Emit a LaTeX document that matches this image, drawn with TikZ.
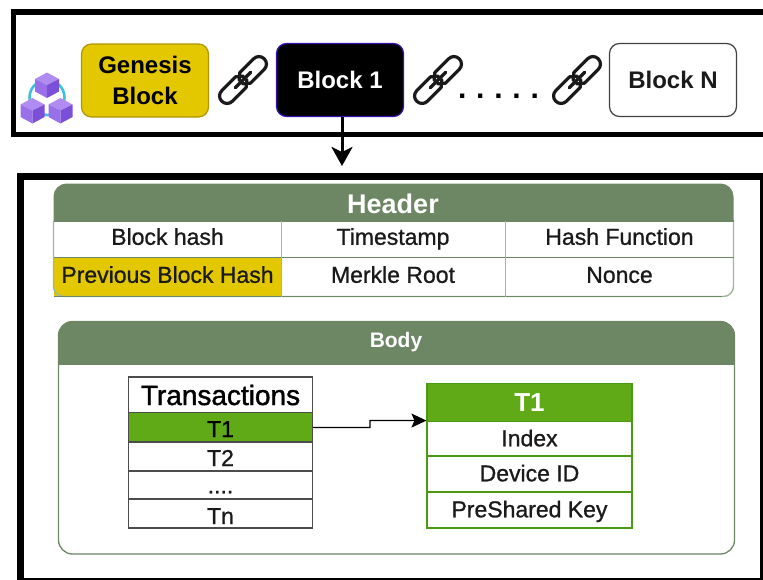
\documentclass[tikz,border=0pt]{standalone}
\usepackage{fontspec}
\setmainfont{Liberation Sans}
\usetikzlibrary{arrows.meta}
\definecolor{sage}{HTML}{6D8764}
\definecolor{sageline}{HTML}{A3B59C}
\definecolor{gold}{HTML}{E3C800}
\definecolor{goldline}{HTML}{B09500}
\definecolor{leaf}{HTML}{60A917}
\definecolor{leafline}{HTML}{4C9A12}
\definecolor{ink}{HTML}{1A1A1A}
\definecolor{cubetop}{HTML}{B08CF2}
\definecolor{cubeleft}{HTML}{9A70EA}
\definecolor{cuberight}{HTML}{7B4FD8}
\definecolor{ring}{HTML}{3FC0DC}
\definecolor{blockedge}{HTML}{3A10B0}
\newcommand{\cubeat}[2]{%
  \fill[cubetop] (#1,#2-12.5)--(#1+12,#2-6)--(#1,#2)--(#1-12,#2-6)--cycle;
  \fill[cubeleft] (#1-12,#2-6)--(#1,#2)--(#1,#2+13)--(#1-12,#2+6.5)--cycle;
  \fill[cuberight] (#1+12,#2-6)--(#1,#2)--(#1,#2+13)--(#1+12,#2+6.5)--cycle;
}
\newcommand{\linkicon}[2]{%
  \begin{scope}[shift={(#1,#2)},rotate=45,line width=3.2pt,draw=ink,line cap=round,line join=round]
    \draw[rounded corners=7.4pt] (-3,-7.5) -- (-30,-7.5) -- (-30,7.5) -- (-3,7.5);
    \draw (-3,-7.5) -- (3,-2.5);
    \draw (-3,7.5) -- (3,2.5);
    \draw[rounded corners=7.4pt] (3,-7.5) -- (30,-7.5) -- (30,7.5) -- (3,7.5);
    \draw (3,-7.5) -- (-3,-2.5);
    \draw (3,7.5) -- (-3,2.5);
    \draw (-11,0) -- (11,0);
  \end{scope}
}
\tikzset{
  frame/.style={draw=black,line width=5.5pt},
  blockbox/.style={rounded corners=10pt,line width=1.2pt,minimum width=127pt,minimum height=73pt,inner sep=0pt,align=center,font=\bfseries\fontsize{24}{31}\selectfont},
  cell/.style={inner sep=0pt,font=\fontsize{23}{24}\selectfont\addfontfeature{FakeBold=0.9},text=ink,text height=16.6pt,text depth=0pt},
  titletext/.style={inner sep=0pt,text=white,font=\bfseries},
  flow/.style={-{Stealth[length=19pt,width=21pt,inset=5pt]},line width=3pt},
  thinflow/.style={-{Stealth[length=15pt,width=14pt,inset=3pt]},line width=1.3pt},
  rowline/.style={line width=1.1pt},
}
\begin{document}
\begin{tikzpicture}[x=1pt,y=-1pt]
\useasboundingbox (0,0) rectangle (763,579);
% top frame
\draw[frame] (13.5,11.75) rectangle (775,134.5);
% lower frame
\draw[frame,line width=6.5pt] (20.5,176.5) rectangle (763.5,581);
% blocks
\node[blockbox,fill=gold,draw=goldline,text=black] (gen) at (145,80.5) {Genesis\\Block};
\node[blockbox,fill=black,draw=blockedge,text=white] (b1) at (340,80) {Block 1};
\node[blockbox,fill=white,draw=black!75,text=ink] (bn) at (673,80) {Block N};
\node[inner sep=0pt,font=\bfseries\fontsize{30}{30}\selectfont] (dots) at (498.5,96) {.\kern9.8pt.\kern9.8pt.\kern9.8pt.\kern9.8pt.};
\linkicon{243}{80}
\linkicon{438}{80}
\linkicon{577}{80}
% blockchain icon
\draw[ring,line width=2.6pt] (47,97.5) circle (17.5);
\cubeat{47}{85}
\cubeat{32.5}{110.5}
\cubeat{60.5}{110.5}
% arrow to block detail
\coordinate (detail) at (342,166);
\draw[flow] (b1.south -| detail) -- (detail);
% header
\fill[white,rounded corners=10pt] (53.5,200) rectangle (733.5,296.5);
\fill[gold] (53.5,257.5) rectangle (281.5,296.5);
\begin{scope}
\clip (0,170) rectangle (763,221);
\fill[sage,rounded corners=13pt] (53.5,183.5) rectangle (733.5,250);
\end{scope}
\draw[sageline,line width=1.4pt,rounded corners=10pt] (53.5,221) -- (53.5,296.5) -- (733.5,296.5) -- (733.5,221);
\draw[sage,rowline] (53.5,221) -- (733.5,221);
\draw[sage,rowline] (53.5,257.5) -- (733.5,257.5);
\draw[sage,rowline] (53.5,296.5) -- (722,296.5);
\draw[sageline,line width=1.6pt] (281.5,221) -- (281.5,296.5);
\draw[sageline,line width=1.6pt] (505.5,221) -- (505.5,296.5);
\node[titletext,font=\bfseries\fontsize{27}{27}\selectfont] (htitle) at (393,204) {Header};
\node[cell] (c11) at (167.5,236.5) {Block hash};
\node[cell] (c12) at (393,236.5) {Timestamp};
\node[cell] (c13) at (619.5,236.5) {Hash Function};
\node[cell] (c21) at (167.5,274.5) {Previous Block Hash};
\node[cell] (c22) at (393,274.5) {Merkle Root};
\node[cell] (c23) at (619.5,274.5) {Nonce};
% body
\draw[sage,line width=1.3pt,fill=white,rounded corners=14pt] (58.5,321.5) rectangle (734.5,554);
\begin{scope}
\clip (0,310) rectangle (763,364);
\fill[sage,rounded corners=14pt] (58.5,321.5) rectangle (734.5,420);
\end{scope}
\node[titletext,font=\bfseries\fontsize{21}{21}\selectfont] (btitle) at (396,342) {Body};
% transactions
\node[draw=black!70,line width=1.3pt,fill=white,minimum width=184pt,minimum height=36pt,inner sep=0pt,font=\fontsize{28}{28}\selectfont\addfontfeature{FakeBold=1.4},text=black] (trans) at (220.5,395) {Transactions};
\node[fill=leaf,draw=leaf,line width=1pt,minimum width=184pt,minimum height=29pt,inner sep=0pt,cell,text=black,text height=19pt] (t1) at (220.5,427.5) {T1};
\node[draw=black!70,rowline,minimum width=184pt,minimum height=29pt,cell,text height=19pt] (t2) at (220.5,456.5) {T2};
\node[draw=black!70,rowline,minimum width=184pt,minimum height=29pt,cell] (tdots) at (220.5,485) {....};
\node[draw=black!70,rowline,minimum width=184pt,minimum height=29pt,cell,text height=21pt] (tn) at (220.5,513.5) {Tn};
\draw[black!70,line width=1.6pt] (128.5,376.5) rectangle (312.5,528);
% T1 detail
\node[fill=leaf,draw=leafline,rowline,minimum width=205pt,minimum height=38pt,inner sep=0pt,titletext,font=\bfseries\fontsize{26}{26}\selectfont] (d0) at (529.5,402.5) {T1};
\node[draw=leafline,rowline,minimum width=205pt,minimum height=35pt,cell,text depth=2pt] (d1) at (529.5,439) {Index};
\node[draw=leafline,rowline,minimum width=205pt,minimum height=36pt,cell,text depth=2pt] (d2) at (529.5,474) {Device ID};
\node[draw=leafline,rowline,minimum width=205pt,minimum height=36pt,cell,text depth=2pt] (d3) at (529.5,510) {PreShared Key};
\draw[thinflow] (t1.east) -- ++(57,0) -- ++(0,-7) -- ([yshift=1.5pt]d0.south west);
\end{tikzpicture}
\end{document}
